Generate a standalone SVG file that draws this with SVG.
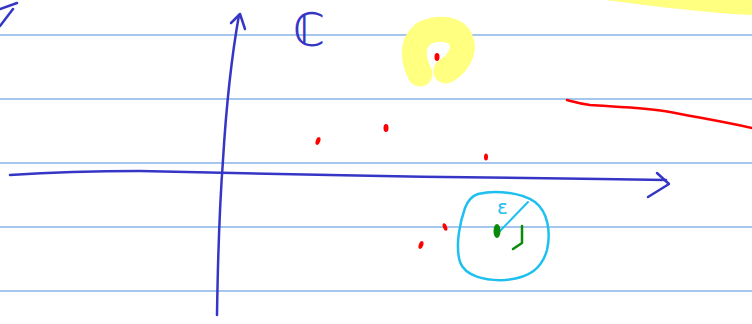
<svg xmlns="http://www.w3.org/2000/svg" width="752" height="324" viewBox="0 0 752 324">
<style>
.rule{stroke:#4f8ddb;stroke-width:1}
.ink{fill:none;stroke-linecap:round;stroke-linejoin:round}
.axis{stroke:#3636c6;stroke-width:2.5}
.red{fill:#ff0000}
</style>
<rect width="752" height="324" fill="#ffffff"/>
<g id="ruled-lines">
<line class="rule" x1="0" y1="35" x2="752" y2="35"/>
<line class="rule" x1="0" y1="99" x2="752" y2="99"/>
<line class="rule" x1="0" y1="163" x2="752" y2="163"/>
<line class="rule" x1="0" y1="227" x2="752" y2="227"/>
<line class="rule" x1="0" y1="291" x2="752" y2="291"/>
</g>
<g id="highlights">
<path d="M420,74 C413,60 411,44 423,34 C436,26 456,28 461,40 C466,53 456,65 446,71" class="ink" stroke="#ffff80" stroke-width="25"/>
<path d="M605,0 L752,0 L752,15 C725,14 700,11 680,9 C655,7 640,4 605,0 Z" fill="#ffff80"/>
</g>
<g id="corner-mark">
<path d="M0,9 L17,3 M0,26 L13,9" class="ink axis" stroke-width="2"/>
</g>
<g id="axes">
<path class="ink axis" d="M10,175 C40,173 90,171 140,171 C200,172 260,174 330,175 C420,177 520,178 600,179 L666,180"/>
<path class="ink axis" d="M657,173 L669,184 L648,197"/>
<path class="ink axis" d="M217,315 C218,250 220,200 223,160 C226,110 231,60 239,15"/>
<path class="ink axis" d="M231,23 L240,14 L245,29"/>
</g>
<g id="label-C">
<text x="293" y="46" font-family="DejaVu Sans, sans-serif" font-size="46" fill="#3636c6">ℂ</text>
</g>
<g id="red-line">
<path class="ink" stroke="#ff0000" stroke-width="2.5" d="M567,100 C575,102 580,104 590,105 C620,107 650,108 670,112 C695,117 720,121 752,128"/>
</g>
<g id="points">
<ellipse class="red" cx="437" cy="57" rx="2.5" ry="4"/>
<ellipse class="red" cx="318" cy="141" rx="2.2" ry="4" transform="rotate(20 318 141)"/>
<ellipse class="red" cx="386" cy="128" rx="2.5" ry="4"/>
<ellipse class="red" cx="486" cy="157" rx="2" ry="3.5"/>
<ellipse class="red" cx="445" cy="227" rx="2" ry="4" transform="rotate(-20 445 227)"/>
<ellipse class="red" cx="421" cy="245" rx="2.2" ry="4" transform="rotate(20 421 245)"/>
</g>
<g id="neighbourhood">
<path class="ink" stroke="#1ec0f0" stroke-width="2.5" d="M478,194 C495,190 520,192 535,202 C548,212 551,232 547,250 C542,268 530,278 505,280 C485,281 465,276 460,262 C455,245 460,222 465,208 C468,200 472,196 478,194"/>
<path class="ink" stroke="#1ec0f0" stroke-width="2" d="M499,232 L528,202"/>
<text x="497" y="214" font-family="DejaVu Sans, sans-serif" font-size="20" fill="#1ec0f0">ε</text>
<ellipse cx="497" cy="231" rx="3.5" ry="7" fill="#0a8a0a"/>
<path class="ink" stroke="#0a8a0a" stroke-width="2.5" d="M522,226 L522,243 L513,249"/>
</g>
</svg>
